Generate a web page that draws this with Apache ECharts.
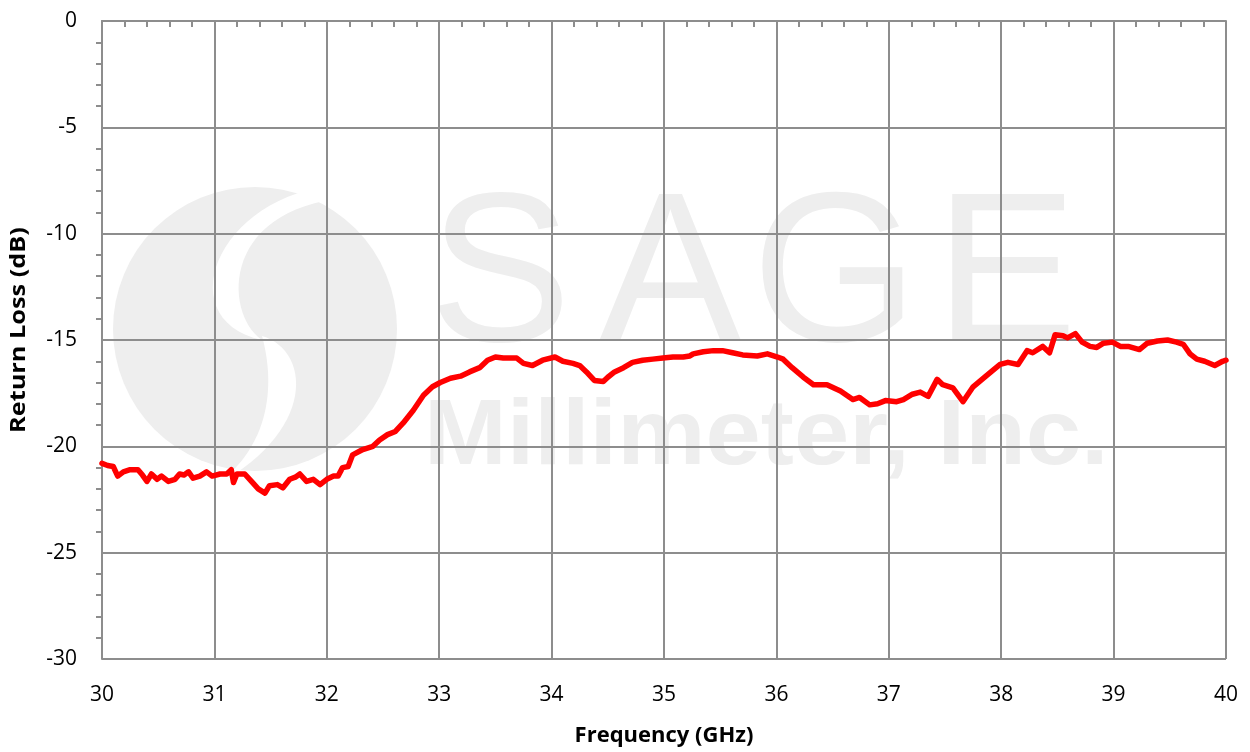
<!DOCTYPE html>
<html>
<head>
<meta charset="utf-8">
<script src="https://cdn.jsdelivr.net/npm/echarts@6/dist/echarts.min.js"></script>
<style>
html,body{margin:0;padding:0;background:#fff;}
#chart{width:1250px;height:752px;}
</style>
</head>
<body>
<div id="chart"></div>
<script>
const xTicks = [30, 31, 32, 33, 34, 35, 36, 37, 38, 39, 40];
const yTicks = [0, -5, -10, -15, -20, -25, -30];
const frequency = [
30.00,30.05,30.10,30.14,30.19,30.25,30.32,30.36,30.40,30.44,30.49,30.53,30.59,30.65,30.69,30.73,30.77,30.81,30.87,30.93,
30.98,31.05,31.11,31.15,31.17,31.20,31.27,31.33,31.39,31.45,31.49,31.56,31.61,31.67,31.72,31.76,31.82,31.88,31.94,32.00,
32.06,32.10,32.14,32.19,32.23,32.32,32.41,32.47,32.54,32.61,32.68,32.77,32.86,32.94,33.01,33.10,33.19,33.27,33.36,33.43,
33.50,33.57,33.65,33.69,33.75,33.83,33.92,34.03,34.10,34.19,34.25,34.31,34.38,34.46,34.50,34.56,34.64,34.72,34.81,34.90,
34.99,35.08,35.17,35.23,35.26,35.35,35.44,35.52,35.61,35.70,35.83,35.92,36.01,36.06,36.14,36.24,36.33,36.45,36.57,36.68,
36.74,36.83,36.90,36.97,37.07,37.13,37.21,37.28,37.35,37.43,37.48,37.57,37.66,37.75,37.84,37.92,37.99,38.06,38.15,38.23,
38.28,38.37,38.43,38.48,38.55,38.59,38.66,38.72,38.79,38.85,38.91,38.99,39.06,39.13,39.23,39.30,39.39,39.48,39.56,39.62,
39.68,39.74,39.81,39.90,39.97,40.00
];
const returnLoss = [
-20.8,-20.9,-20.95,-21.4,-21.2,-21.1,-21.1,-21.35,-21.65,-21.3,-21.55,-21.4,-21.65,-21.55,-21.3,-21.35,-21.2,-21.5,-21.4,-21.2,
-21.4,-21.3,-21.3,-21.1,-21.7,-21.3,-21.3,-21.65,-22.0,-22.2,-21.85,-21.8,-21.95,-21.55,-21.45,-21.3,-21.65,-21.55,-21.8,-21.55,
-21.4,-21.4,-21.0,-20.95,-20.4,-20.15,-20.0,-19.7,-19.45,-19.3,-18.9,-18.3,-17.6,-17.2,-17.0,-16.8,-16.7,-16.5,-16.3,-15.95,
-15.8,-15.85,-15.85,-15.85,-16.1,-16.2,-15.95,-15.8,-16.0,-16.1,-16.2,-16.5,-16.9,-16.95,-16.75,-16.5,-16.3,-16.05,-15.95,-15.9,
-15.85,-15.8,-15.8,-15.75,-15.65,-15.55,-15.5,-15.5,-15.6,-15.7,-15.75,-15.65,-15.8,-15.9,-16.3,-16.75,-17.1,-17.1,-17.4,-17.8,
-17.7,-18.05,-18.0,-17.85,-17.9,-17.8,-17.55,-17.45,-17.65,-16.85,-17.1,-17.25,-17.9,-17.2,-16.8,-16.45,-16.15,-16.05,-16.15,-15.5,
-15.6,-15.3,-15.6,-14.75,-14.8,-14.9,-14.7,-15.1,-15.3,-15.35,-15.15,-15.1,-15.3,-15.3,-15.45,-15.15,-15.05,-15.0,-15.1,-15.2,
-15.65,-15.9,-16.0,-16.2,-16.0,-15.95
];

// helper for the watermark logo shape (decoration only)
function bez(p0, p1, p2, p3, n) {
  const pts = [];
  for (let i = 0; i <= n; i++) {
    const t = i / n, u = 1 - t;
    pts.push([
      u*u*u*p0[0] + 3*u*u*t*p1[0] + 3*u*t*t*p2[0] + t*t*t*p3[0],
      u*u*u*p0[1] + 3*u*u*t*p1[1] + 3*u*t*t*p2[1] + t*t*t*p3[1]
    ]);
  }
  return pts;
}
const crescentUp = bez([330,186],[215,200],[170,320],[262,340],30).concat(bez([262,340],[225,315],[220,215],[336,199],30));
const crescentDown = bez([262,336],[310,350],[318,430],[215,486],30).concat(bez([215,486],[278,440],[272,372],[262,336],30));

const chart = echarts.init(document.getElementById('chart'));
const gridColor = '#8d8d8d';
const wm = '#eeeeee';
const labelFont = '"Open Sans", "Noto Sans", sans-serif';
const wmFont = '"Liberation Sans", Arial, sans-serif';

chart.setOption({
  animation: false,
  backgroundColor: '#ffffff',
  grid: { left: 102, right: 24, top: 21, bottom: 88, containLabel: false },
  graphic: [
    { type: 'circle', z: -10, silent: true, shape: { cx: 255, cy: 329, r: 142 }, style: { fill: wm } },
    { type: 'polygon', z: -9, silent: true, shape: { points: crescentUp }, style: { fill: '#ffffff' } },
    { type: 'polygon', z: -9, silent: true, shape: { points: crescentDown }, style: { fill: '#ffffff' } },
    { type: 'text', z: -8, silent: true, x: 500, y: 282, style: { text: 'S', font: '214px ' + wmFont, fill: wm, textAlign: 'center', textVerticalAlign: 'middle' } },
    { type: 'text', z: -8, silent: true, x: 670, y: 282, style: { text: 'A', font: '214px ' + wmFont, fill: wm, textAlign: 'center', textVerticalAlign: 'middle' } },
    { type: 'text', z: -8, silent: true, x: 835, y: 282, style: { text: 'G', font: '214px ' + wmFont, fill: wm, textAlign: 'center', textVerticalAlign: 'middle' } },
    { type: 'text', z: -8, silent: true, x: 1006, y: 282, style: { text: 'E', font: '214px ' + wmFont, fill: wm, textAlign: 'center', textVerticalAlign: 'middle' } },
    { type: 'text', z: -8, silent: true, x: 424, y: 439, scaleX: 1.08, style: { text: 'Millimeter, Inc.', font: 'bold 92px ' + wmFont, fill: wm, textAlign: 'left', textVerticalAlign: 'middle' } },
    { type: 'text', x: 19, y: 330, rotation: Math.PI / 2, scaleX: 1.15, z: 10,
      style: { text: 'Return Loss (dB)', font: 'bold 22px ' + labelFont, fill: '#000', textAlign: 'center', textVerticalAlign: 'middle' } }
  ],
  xAxis: {
    type: 'value',
    min: xTicks[0], max: xTicks[xTicks.length - 1], interval: 1,
    name: 'Frequency (GHz)', nameLocation: 'middle', nameGap: 66,
    nameTextStyle: { fontSize: 22, fontWeight: 'bold', color: '#000', fontFamily: labelFont },
    axisLine: { show: true, lineStyle: { color: gridColor, width: 2 } },
    axisTick: { show: false },
    minorTick: { show: true, splitNumber: 5, length: 6, lineStyle: { color: gridColor, width: 2 } },
    axisLabel: { color: '#000', fontSize: 21, fontFamily: labelFont, margin: 26 },
    splitLine: { show: true, lineStyle: { color: gridColor, width: 2 } }
  },
  yAxis: {
    type: 'value',
    min: yTicks[yTicks.length - 1], max: yTicks[0], interval: 5,
    axisLine: { show: true, onZero: false, lineStyle: { color: gridColor, width: 2 } },
    axisTick: { show: false },
    minorTick: { show: true, splitNumber: 5, length: 6, lineStyle: { color: gridColor, width: 2 } },
    axisLabel: { color: '#000', fontSize: 21, fontFamily: labelFont, margin: 25 },
    splitLine: { show: true, lineStyle: { color: gridColor, width: 2 } }
  },
  series: [{
    type: 'line',
    data: frequency.map((f, i) => [f, returnLoss[i]]),
    showSymbol: false,
    smooth: false,
    lineStyle: { color: '#ff0000', width: 5.5, join: 'round', cap: 'round' },
    z: 5
  }]
});
</script>
</body>
</html>
